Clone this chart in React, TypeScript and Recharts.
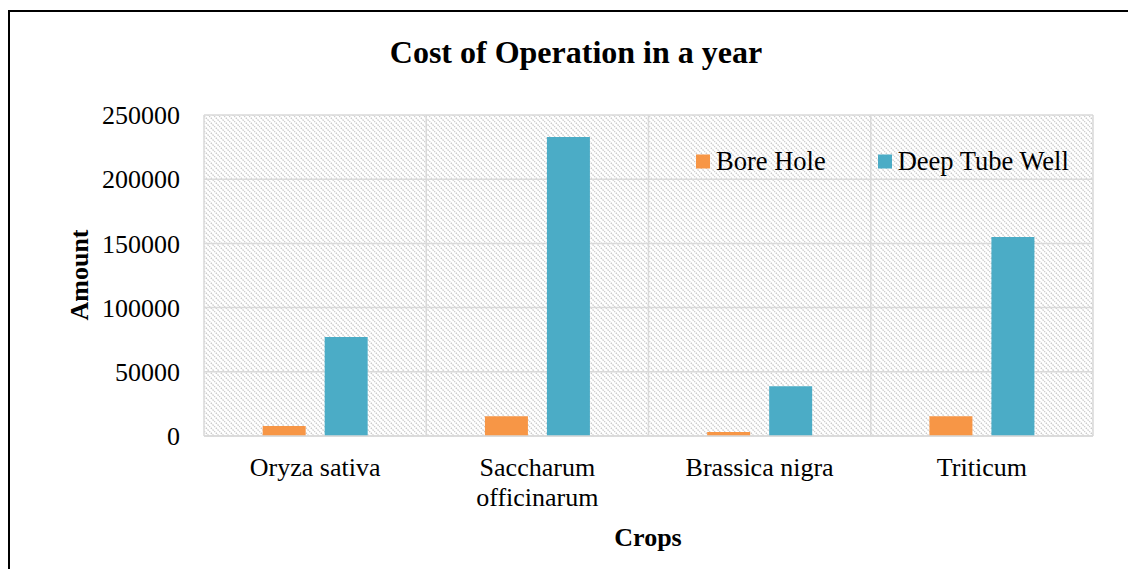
import { Bar, BarChart, CartesianGrid, XAxis, YAxis } from 'recharts';

const crops = ['Oryza sativa', 'Saccharum officinarum', 'Brassica nigra', 'Triticum'];
const boreHole = [7800, 15300, 3100, 15300];
const deepTubeWell = [77100, 232800, 38700, 155000];
const yTicks = [0, 50000, 100000, 150000, 200000, 250000];

const SERIES = [
  { key: 'boreHole', name: 'Bore Hole', color: '#F79646' },
  { key: 'deepTubeWell', name: 'Deep Tube Well', color: '#4BACC6' },
];

const FONT = '"Liberation Serif", "Times New Roman", serif';

const chartData = crops.map((crop, index) => ({
  crop,
  boreHole: boreHole[index],
  deepTubeWell: deepTubeWell[index],
}));

const CropTick = ({ x, y, payload }: any) => {
  const label: string = payload.value;
  const lines = label.length > 16 ? label.split(' ') : [label];
  return (
    <text x={x} y={y} textAnchor="middle" fontSize={26} fontFamily={FONT} fill="#000">
      {lines.map((line, index) => (
        <tspan key={line} x={x} dy={index === 0 ? 40 : 30}>
          {line}
        </tspan>
      ))}
    </text>
  );
};

export default function App() {
  return (
    <div
      style={{
        position: 'relative',
        marginTop: 2,
        width: 1126,
        height: 570,
        borderTop: '2px solid #000',
        borderLeft: '2px solid #000',
        fontFamily: FONT,
        color: '#000',
      }}
    >
      <style>{'html, body { overflow: hidden; }'}</style>
      <div
        style={{
          position: 'absolute',
          left: 566,
          top: 40,
          transform: 'translate(-50%, -50%)',
          fontSize: 32,
          fontWeight: 'bold',
          whiteSpace: 'nowrap',
        }}
      >
        Cost of Operation in a year
      </div>

      <BarChart
        width={1126}
        height={551}
        data={chartData}
        margin={{ top: 103, right: 43, left: 0, bottom: 0 }}
        barCategoryGap="26.4%"
        barGap={19}
      >
        <defs>
          <pattern id="hatch" width="5" height="5" patternUnits="userSpaceOnUse">
            <rect width="5" height="5" fill="#fff" />
            <path
              d="M-1,-1 L6,6 M-1,4 L1,6 M4,-1 L6,1"
              stroke="#c6c6c6"
              strokeWidth={1.3}
              strokeDasharray="1.5 1"
            />
          </pattern>
        </defs>
        <CartesianGrid
          stroke="#d9d9d9"
          strokeWidth={1.5}
          fill="url(#hatch)"
          fillOpacity={1}
          verticalCoordinatesGenerator={({ offset }: any) =>
            [0, 1, 2, 3, 4].map((i) => offset.left + (i * offset.width) / crops.length)
          }
        />
        <XAxis
          dataKey="crop"
          height={127}
          tick={<CropTick />}
          tickLine={false}
          tickSize={0}
          tickMargin={0}
          axisLine={{ stroke: '#d9d9d9', strokeWidth: 1.5 }}
          interval={0}
        />
        <YAxis
          width={194}
          domain={[0, 250000]}
          ticks={yTicks}
          tick={{ fontSize: 26, fontFamily: FONT, fill: '#000' }}
          tickLine={false}
          tickSize={0}
          tickMargin={24}
          axisLine={false}
          interval={0}
        />
        {SERIES.map((series) => (
          <Bar
            key={series.key}
            dataKey={series.key}
            name={series.name}
            fill={series.color}
            isAnimationActive={false}
          />
        ))}
      </BarChart>

      <div
        style={{
          position: 'absolute',
          left: 686,
          top: 149,
          transform: 'translateY(-50%)',
          display: 'flex',
          alignItems: 'center',
          fontSize: 26.5,
          whiteSpace: 'nowrap',
        }}
      >
        {SERIES.map((series, index) => (
          <div
            key={series.key}
            style={{ display: 'flex', alignItems: 'center', marginLeft: index === 0 ? 0 : 52 }}
          >
            <span style={{ width: 14, height: 14, background: series.color, marginRight: 6 }} />
            <span>{series.name}</span>
          </div>
        ))}
      </div>

      <div
        style={{
          position: 'absolute',
          left: 638,
          top: 526,
          transform: 'translate(-50%, -50%)',
          fontSize: 26,
          fontWeight: 'bold',
        }}
      >
        Crops
      </div>
      <div
        style={{
          position: 'absolute',
          left: 70,
          top: 263,
          transform: 'translate(-50%, -50%) rotate(-90deg)',
          fontSize: 26,
          fontWeight: 'bold',
        }}
      >
        Amount
      </div>
    </div>
  );
}
